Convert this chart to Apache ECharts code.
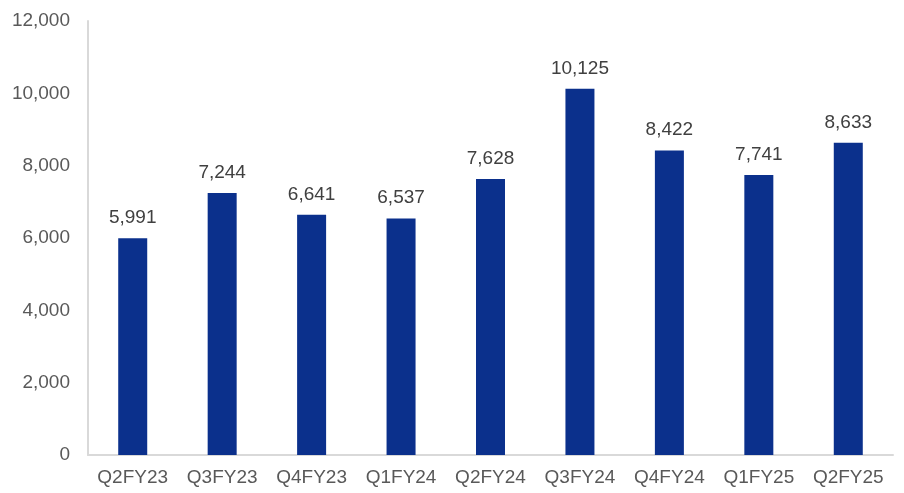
<!DOCTYPE html>
<html>
<head>
<meta charset="utf-8">
<script src="https://cdn.jsdelivr.net/npm/echarts@6/dist/echarts.min.js"></script>
<style>
  html, body { margin: 0; padding: 0; background: #fff; }
  #chart { width: 904px; height: 493px; }
</style>
</head>
<body>
<div id="chart"></div>
<script>
// Quarterly values
const quarters = ['Q2FY23', 'Q3FY23', 'Q4FY23', 'Q1FY24', 'Q2FY24', 'Q3FY24', 'Q4FY24', 'Q1FY25', 'Q2FY25'];
const values = [5991, 7244, 6641, 6537, 7628, 10125, 8422, 7741, 8633];
const yTicks = { min: 0, max: 12000, interval: 2000 };

const fontFamily = '"Liberation Sans", Arial, sans-serif';
const chart = echarts.init(document.getElementById('chart'));
chart.setOption({
  animation: false,
  grid: { left: 88, right: 11, top: 21, bottom: 38 },
  xAxis: {
    type: 'category',
    data: quarters,
    axisLine: { lineStyle: { color: '#d9d9d9', width: 2 } },
    axisTick: { show: false },
    axisLabel: { color: '#595959', fontSize: 19, fontFamily, margin: 13, interval: 0, hideOverlap: false }
  },
  yAxis: {
    type: 'value',
    min: yTicks.min,
    max: yTicks.max,
    interval: yTicks.interval,
    axisLine: { show: true, lineStyle: { color: '#d9d9d9', width: 2 } },
    axisTick: { show: false },
    splitLine: { show: false },
    axisLabel: {
      color: '#595959', fontSize: 19, fontFamily, margin: 18,
      formatter: v => v.toLocaleString('en-US')
    }
  },
  series: [{
    type: 'bar',
    data: values,
    barWidth: 29,
    itemStyle: { color: '#0b308c' },
    label: {
      show: true,
      position: 'top',
      distance: 11,
      color: '#404040',
      fontSize: 19,
      fontFamily,
      formatter: p => p.value.toLocaleString('en-US')
    }
  }]
});
</script>
</body>
</html>
